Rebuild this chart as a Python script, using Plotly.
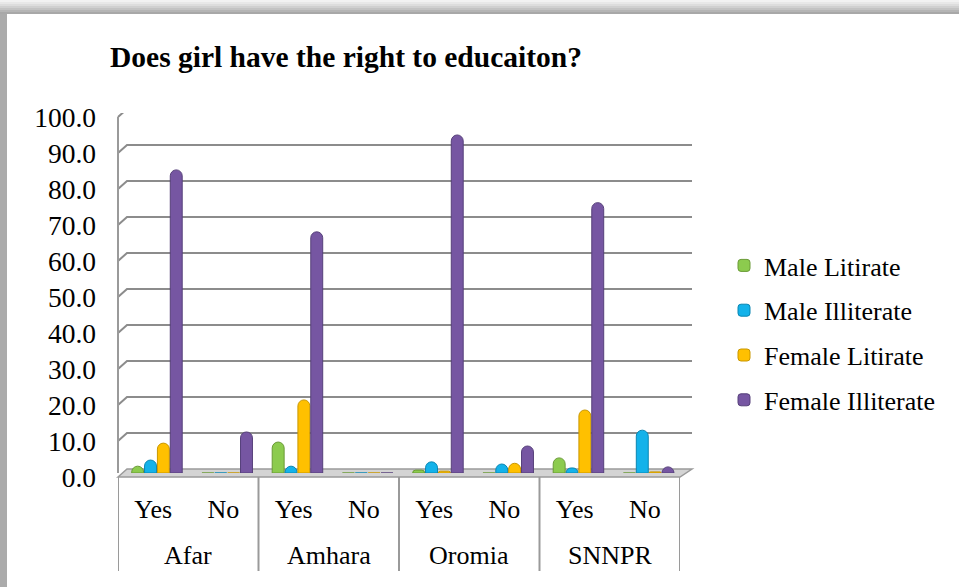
import plotly.graph_objects as go

# ---- data -------------------------------------------------------------
regions = ["Afar", "Amhara", "Oromia", "SNNPR"]
answers = ["Yes", "No"]
series_names = ["Male Litirate", "Male Illiterate", "Female Litirate", "Female Illiterate"]

# percentages, order: Afar Yes, Afar No, Amhara Yes, Amhara No, Oromia Yes, Oromia No, SNNPR Yes, SNNPR No
male_litirate = [1.9, 0.0, 8.6, 0.0, 0.8, 0.0, 4.2, 0.0]
male_illiterate = [3.6, 0.0, 1.9, 0.0, 3.1, 2.5, 1.4, 11.9]
female_litirate = [8.3, 0.0, 20.3, 0.0, 0.5, 2.7, 17.5, 0.3]
female_illiterate = [84.2, 11.4, 67.0, 0.0, 93.9, 7.5, 75.1, 1.7]

y_ticks = [0, 10, 20, 30, 40, 50, 60, 70, 80, 90, 100]

# ---- styling ------------------------------------------------------------
W, H = 959, 587
L, R, T, B = 118, 680, 113, 473          # plot area in pixels (mid-depth plane)
HALF_DEPTH = 4                           # px between mid-depth and front/back planes
colors = ["#8CCB4E", "#13B2EA", "#FFC000", "#7656A2"]
edges = ["#6A9A36", "#0A86B2", "#C99700", "#56407A"]
FONT = "Liberation Serif, Times New Roman, serif"

n_slots = len(regions) * len(answers)
slot_pos = list(range(n_slots))
slot_text = [a for _ in regions for a in answers]

values = [male_litirate, male_illiterate, female_litirate, female_illiterate]
offsets = [-0.305, -0.122, 0.061, 0.244]

fig = go.Figure()
for name, vals, c, e, off in zip(series_names, values, colors, edges, offsets):
    fig.add_trace(go.Bar(
        x=slot_pos, y=vals, name=name,
        width=0.17, offset=off, cliponaxis=False,
        marker=dict(color=c, line=dict(color=e, width=1), cornerradius="50%"),
        legendgroup=name,
    ))


def px_x(px):
    return (px - L) / (R - L)


def px_y(py):
    return (B - py) / (B - T)


shapes = []

# frame shadow: top gradient band and left band
top_grays = ["#f2f2f2", "#e8e8e8", "#dddddd", "#d0d0d0", "#c3c3c3", "#b5b5b5", "#a8a8a8"]
for i, g in enumerate(top_grays):
    shapes.append(dict(type="rect", xref="paper", yref="paper", layer="below",
                       x0=px_x(0), x1=px_x(W), y0=px_y(2 * i), y1=px_y(2 * i + 2),
                       fillcolor=g, line=dict(width=0)))
shapes.append(dict(type="rect", xref="paper", yref="paper", layer="below",
                   x0=px_x(0), x1=px_x(7), y0=px_y(H), y1=px_y(14),
                   fillcolor="#ababab", line=dict(width=0)))

# floor slab
depth_x = 9
front, back = B + HALF_DEPTH, B - HALF_DEPTH
shapes.append(dict(type="path", xref="paper", yref="paper", layer="below",
                   path=(f"M {px_x(L)},{px_y(front)} L {px_x(L + depth_x)},{px_y(back)} "
                         f"L {px_x(R + 12)},{px_y(back)} L {px_x(R)},{px_y(front)} Z"),
                   fillcolor="#D4D4D4", line=dict(color="#9A9A9A", width=1.5)))

# back-wall gridlines with a slanted left-wall segment
unit_px = (B - T) / 100
du = HALF_DEPTH / unit_px
for v in y_ticks[1:]:
    shapes.append(dict(type="path", xref="paper", yref="y", layer="below",
                       path=(f"M {px_x(L)},{v - du} L {px_x(L + depth_x)},{v + du} "
                             f"L {px_x(R + 12)},{v + du}"),
                       line=dict(color="#8C8C8C", width=2)))

# left wall edge (front plane)
shapes.append(dict(type="line", xref="paper", yref="y", layer="below",
                   x0=0, x1=0, y0=-du, y1=100 - du,
                   line=dict(color="#9A9A9A", width=2)))

# category table below the floor: region dividers
for k in range(len(regions) + 1):
    xd = -0.5 + k * len(answers)
    shapes.append(dict(type="line", xref="x", yref="paper",
                       x0=xd, x1=xd, y0=px_y(front), y1=px_y(571),
                       line=dict(color="#9A9A9A", width=2)))

# region names centred under their Yes/No pair
annotations = []
for k, reg in enumerate(regions):
    annotations.append(dict(text=reg, xref="x", yref="paper",
                            x=k * len(answers) + (len(answers) - 1) / 2, y=px_y(555),
                            xanchor="center", yanchor="middle", showarrow=False,
                            font=dict(family=FONT, size=26, color="black")))

fig.update_layout(
    width=W, height=H,
    margin=dict(l=L, r=W - R, t=T, b=H - B),
    paper_bgcolor="white", plot_bgcolor="rgba(0,0,0,0)",
    font=dict(family=FONT, size=26, color="black"),
    barmode="group",
    shapes=shapes,
    annotations=annotations,
    showlegend=True,
    title=dict(text="<b>Does girl have the right to educaiton?</b>",
               font=dict(family=FONT, size=29.5, color="black"),
               xref="container", yref="container",
               x=110 / W, xanchor="left", y=1 - 57 / H, yanchor="middle"),
    legend=dict(xref="container", yref="container",
                x=724 / W, xanchor="left", y=1 - 333 / H, yanchor="middle",
                font=dict(family=FONT, size=26), bgcolor="rgba(0,0,0,0)",
                traceorder="grouped", tracegroupgap=8),
    xaxis=dict(range=[-0.5, n_slots - 0.5], tickvals=slot_pos, ticktext=slot_text,
               showgrid=False, zeroline=False, showline=False, ticks="",
               tickfont=dict(family=FONT, size=26), ticklabelstandoff=18),
    yaxis=dict(range=[0, 100], tickvals=y_ticks, tickformat=".1f",
               showgrid=False, zeroline=False, showline=False, ticks="",
               ticklabelstandoff=21, ticklabelshift=HALF_DEPTH,
               tickfont=dict(family=FONT, size=27.5)),
)

fig.write_html("out.html")
